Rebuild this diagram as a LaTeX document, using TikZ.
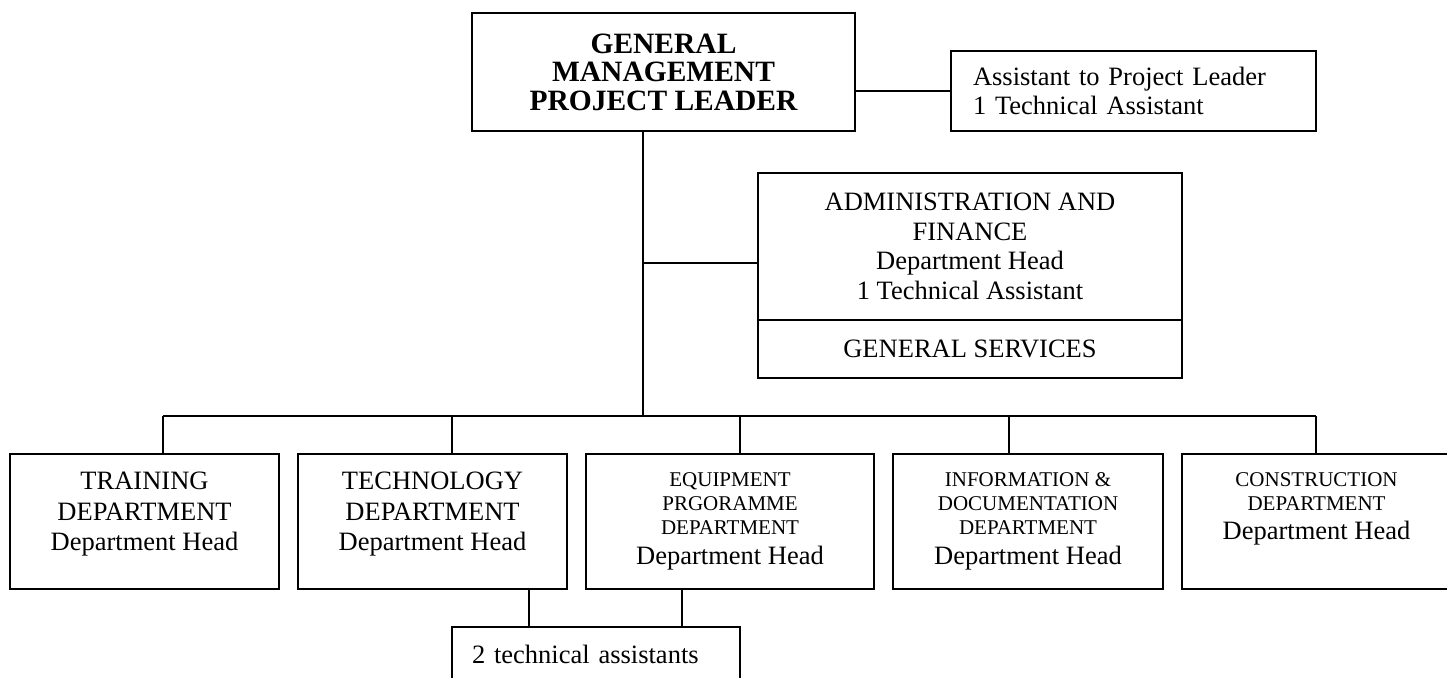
\documentclass[tikz,border=0pt]{standalone}
\usepackage{fontspec}
\setmainfont{Liberation Serif}
\begin{document}
\begin{tikzpicture}[x=1pt,y=-1pt]
\tikzset{
  box/.style={draw, line width=1.6pt, inner sep=0pt, outer sep=0pt},
  wire/.style={line width=1.6pt},
  dept/.style={box, minimum height=135pt},
  deptext/.style={anchor=north, align=center, inner sep=0pt, yshift=-18pt},
  bigtext/.style={font=\fontsize{26.5}{30.5}\selectfont},
  smalltext/.style={font=\fontsize{21}{24}\selectfont},
}
\useasboundingbox (0,0) rectangle (1447,677);
\clip (0,0) rectangle (1447,677);

% management level
\node[box, minimum width=383pt, minimum height=118pt, align=center,
      font=\fontsize{29.5}{28.5}\selectfont\bfseries] (gm) at (663.5,72)
      {GENERAL\\MANAGEMENT\\PROJECT LEADER};
\node[box, minimum height=80pt, inner xsep=22pt, text width=321pt, align=left,
      font=\fontsize{26.5}{29}\selectfont] (asst) at (1133.5,91)
      {Assistant to Project Leader\\1 Technical Assistant};

% administration block
\node[box, minimum width=424pt, minimum height=147pt, align=center,
      font=\fontsize{26.5}{29.5}\selectfont] (adm) at (970,246.5)
      {ADMINISTRATION AND\\FINANCE\\Department Head\\1 Technical Assistant};
\node[box, minimum width=424pt, minimum height=58pt,
      font=\fontsize{26.5}{30}\selectfont] (gs) at (970,349) {GENERAL SERVICES};

% departments
\node[dept, minimum width=269pt,
      label={[deptext, bigtext]north:{TRAINING\\DEPARTMENT\\Department Head}}]
      (train) at (144.5,521.5) {};
\node[dept, minimum width=269pt,
      label={[deptext, bigtext]north:{TECHNOLOGY\\DEPARTMENT\\Department Head}}]
      (tech) at (432.5,521.5) {};
\node[dept, minimum width=288pt,
      label={[deptext, smalltext]north:{EQUIPMENT\\PRGORAMME\\DEPARTMENT\\[6pt]{\fontsize{26.5}{30}\selectfont Department Head}}}]
      (equip) at (730,521.5) {};
\node[dept, minimum width=270pt,
      label={[deptext, smalltext]north:{INFORMATION \&\\DOCUMENTATION\\DEPARTMENT\\[6pt]{\fontsize{26.5}{30}\selectfont Department Head}}}]
      (info) at (1028,521.5) {};
\node[dept, minimum width=269pt,
      label={[deptext, smalltext]north:{CONSTRUCTION\\DEPARTMENT\\[5pt]{\fontsize{26.5}{30}\selectfont Department Head}}}]
      (constr) at (1316.5,521.5) {};

% shared assistants
\node[box, minimum height=54pt, inner xsep=20pt, text width=248pt, align=left,
      font=\fontsize{26.5}{30}\selectfont] (tas) at (596,654)
      {2 technical assistants};

% junction points
\coordinate (j) at (643,416);
\coordinate (admtap) at (adm.west |- 0,263);
\coordinate (b1) at (163,416);
\coordinate (b2) at (452,416);
\coordinate (b3) at (740,416);
\coordinate (b4) at (1009,416);
\coordinate (b5) at (1316,416);
\coordinate (t1) at (529,0);
\coordinate (t2) at (682,0);

% connectors
\draw[wire] (asst.west) -- (asst.west -| gm.east);
\draw[wire] (gm.south -| j) -- (j);
\draw[wire] (admtap -| j) -- (admtap);
\draw[wire] (b1) -- (b5);
\draw[wire] (b1) -- (b1 |- train.north);
\draw[wire] (b2) -- (b2 |- tech.north);
\draw[wire] (b3) -- (b3 |- equip.north);
\draw[wire] (b4) -- (b4 |- info.north);
\draw[wire] (b5) -- (b5 |- constr.north);
\draw[wire] (t1 |- tech.south) -- (t1 |- tas.north);
\draw[wire] (t2 |- equip.south) -- (t2 |- tas.north);
\end{tikzpicture}
\end{document}
